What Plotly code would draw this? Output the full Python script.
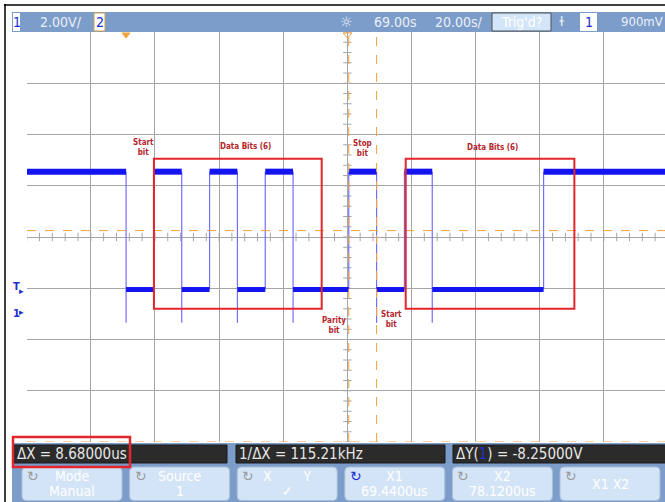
import plotly.graph_objects as go

# ==========================================================
# SCOPE SETTINGS
# ==========================================================

TIME_PER_DIV = 20.0      # us / div
TIME_CENTER = 69.0       # us, horizontal position
VOLTS_PER_DIV = 2.0      # V / div
VOLT_CENTER = 3.0        # V at screen centre
TRIGGER_LEVEL = 0.9      # V

# ==========================================================
# CAPTURED UART FRAME
# ==========================================================

BIT_TIME = 8.68          # us
FRAME_START = 0.0        # us, first falling edge (start bit)
BITS = [0, 1, 0, 1, 0, 1, 0, 0, 1, 0, 1, 0, 0, 0, 0]   # line idles high after
HIGH_LEVEL = 5.55        # V
LOW_LEVEL = 0.95         # V
SPIKE_LEVEL = -0.35      # V, undershoot on falling edges

# cursors
X1 = 69.44
X2 = 78.12
Y1 = 3.25
Y2 = -5.00

# annotation boxes / labels drawn on the capture
BOX_X = [(8.68, 61.0), (87.2, 139.8)]
BOX_Y = (0.2, 6.05)
LABEL_TEXT = ["Start<br>bit", "Data Bits (6)", "Stop<br>bit",
              "Data Bits (6)", "Parity<br>bit", "Start<br>bit"]
LABEL_X = [5.4, 37.2, 73.7, 114.3, 64.7, 82.8]
LABEL_Y = [6.5, 6.55, 6.45, 6.5, -0.45, -0.2]

# readouts
TOP_SCALE = "2.00V/"
TOP_DELAY = "69.00s"
TOP_TIMEBASE = "20.00s/"
TOP_TRIG = "900mV"
MEAS = ["ΔX = 8.68000us", "1/ΔX = 115.21kHz",
        "ΔY(<span style='color:#2030d0'>1</span>) = -8.25000V"]
SOFTKEYS = [("Mode", "Manual"), ("Source", "1"), ("X        Y", "✓"),
            ("X1", "69.4400us"), ("X2", "78.1200us"), ("X1 X2", "")]

# ==========================================================
# LAYOUT HELPERS
# ==========================================================

W, H = 665, 502
ML, MT, MB = 27, 32, 60
PW, PH = W - ML, H - MT - MB

BAR = "#7c9dca"
ORANGE = "#f3a23c"
GRID = "#a6a6a6"
BLUE = "#1414f0"
EDGE = "#7070ff"
RED = "#e3262c"
NARROW = "Liberation Sans Narrow, DejaVu Sans Condensed, Arial Narrow, sans-serif"


def px(x):
    return (x - ML) / PW


def py(y):
    return (H - MB - y) / PH


def rect(x0, y0, x1, y1, fill, line=None, lw=0):
    return dict(type="rect", xref="paper", yref="paper",
                x0=px(x0), x1=px(x1), y0=py(y1), y1=py(y0),
                fillcolor=fill, line=dict(color=line or fill, width=lw),
                layer="above")


def rounded(x0, y0, x1, y1, r, fill, line):
    p = (f"M {px(x0 + r)},{py(y0)} L {px(x1 - r)},{py(y0)} "
         f"Q {px(x1)},{py(y0)} {px(x1)},{py(y0 + r)} "
         f"L {px(x1)},{py(y1 - r)} Q {px(x1)},{py(y1)} {px(x1 - r)},{py(y1)} "
         f"L {px(x0 + r)},{py(y1)} Q {px(x0)},{py(y1)} {px(x0)},{py(y1 - r)} "
         f"L {px(x0)},{py(y0 + r)} Q {px(x0)},{py(y0)} {px(x0 + r)},{py(y0)} Z")
    return dict(type="path", xref="paper", yref="paper", path=p,
                fillcolor=fill, line=dict(color=line, width=1), layer="above")


def text(x, y, s, size=14, color="#eaf0f8", anchor="left", family=NARROW, bold=False):
    if bold:
        s = f"<b>{s}</b>"
    return dict(xref="paper", yref="paper", x=px(x), y=py(y), text=s,
                showarrow=False, xanchor=anchor, yanchor="middle",
                font=dict(family=family, size=size, color=color))


x_range = [TIME_CENTER - 99.9, TIME_CENTER - 100 + PW / 64.1 * TIME_PER_DIV]
y_range = [VOLT_CENTER - 4 * VOLTS_PER_DIV, VOLT_CENTER + 4 * VOLTS_PER_DIV]

# ==========================================================
# SIGNAL TRACE
# ==========================================================

seq = [1] + BITS + [1]
starts = [x_range[0]] + [FRAME_START + i * BIT_TIME for i in range(len(seq) - 1)]
ends = starts[1:] + [x_range[1]]

runs = []
for lvl, s, e in zip(seq, starts, ends):
    if runs and runs[-1][0] == lvl:
        runs[-1][2] = e
    else:
        runs.append([lvl, s, e])

hi_x, hi_y, lo_x, lo_y, ed_x, ed_y = [], [], [], [], [], []
for i, (lvl, s, e) in enumerate(runs):
    if lvl:
        hi_x += [s, e, None]
        hi_y += [HIGH_LEVEL, HIGH_LEVEL, None]
    else:
        lo_x += [s, e, None]
        lo_y += [LOW_LEVEL, LOW_LEVEL, None]
    if i > 0:
        bottom = SPIKE_LEVEL if lvl == 0 else LOW_LEVEL
        ed_x += [s, s, None]
        ed_y += [HIGH_LEVEL, bottom, None]

fig = go.Figure()

# graticule minor ticks on the centre axes
tick_t = [TIME_CENTER + k * TIME_PER_DIV / 5 for k in range(-25, 26)]
tick_v = [VOLT_CENTER + k * VOLTS_PER_DIV / 5 for k in range(-20, 21)]
fig.add_trace(go.Scatter(
    x=tick_t, y=[VOLT_CENTER] * len(tick_t), mode="markers", hoverinfo="skip",
    marker=dict(symbol="line-ns", size=6, line=dict(color=GRID, width=1))))
fig.add_trace(go.Scatter(
    x=[TIME_CENTER] * len(tick_v), y=tick_v, mode="markers", hoverinfo="skip",
    marker=dict(symbol="line-ew", size=6, line=dict(color=GRID, width=1))))

fig.add_trace(go.Scatter(x=ed_x, y=ed_y, mode="lines",
                         line=dict(color=EDGE, width=1.2)))
fig.add_trace(go.Scatter(x=hi_x, y=hi_y, mode="lines",
                         line=dict(color=BLUE, width=6)))
fig.add_trace(go.Scatter(x=lo_x, y=lo_y, mode="lines",
                         line=dict(color=BLUE, width=5)))

# ==========================================================
# SHAPES
# ==========================================================

shapes = []

# cursors
for xc, dash in [(X1, "dash"), (X2, "dash")]:
    shapes.append(dict(type="line", xref="x", yref="paper", x0=xc, x1=xc,
                       y0=0, y1=1, line=dict(color=ORANGE, width=1, dash=dash)))
for yc in [Y1, Y2]:
    shapes.append(dict(type="line", xref="paper", yref="y", x0=0, x1=1,
                       y0=yc, y1=yc, line=dict(color=ORANGE, width=1, dash="dash")))

# red boxes on the capture
for x0, x1 in BOX_X:
    shapes.append(dict(type="rect", xref="x", yref="y", x0=x0, x1=x1,
                       y0=BOX_Y[0], y1=BOX_Y[1], line=dict(color=RED, width=2)))

# outer frame
shapes.append(dict(type="line", xref="paper", yref="paper", x0=px(5), x1=px(5),
                   y0=py(4), y1=py(H), line=dict(color="black", width=1.5)))
shapes.append(dict(type="line", xref="paper", yref="paper", x0=px(4), x1=px(W),
                   y0=py(5), y1=py(5), line=dict(color="black", width=1.5)))

# top status bar
shapes.append(rect(12, 12, W + 1, 32, BAR))
shapes.append(rect(13, 13, 20, 31, "white"))
shapes.append(rect(94, 13, 105, 31, "white", "#c9a44a", 1))
shapes.append(rect(492, 13, 551, 31, "#d3e5f8", "#505050", 1))
shapes.append(rect(580, 13, 597, 31, "white"))

# position markers under the bar
shapes.append(dict(type="path", xref="paper", yref="paper",
                   path=f"M {px(122)},{py(33)} L {px(130)},{py(33)} L {px(126)},{py(38)} Z",
                   fillcolor=ORANGE, line=dict(color=ORANGE, width=1)))
shapes.append(dict(type="path", xref="paper", yref="paper",
                   path=f"M {px(343)},{py(33)} L {px(352)},{py(33)} L {px(347.5)},{py(38)} Z",
                   fillcolor="rgba(0,0,0,0)", line=dict(color=ORANGE, width=1)))

# bottom measurement area
shapes.append(rect(12, 443, W + 1, H + 1, BAR))
for x0, x1 in [(14, 227), (236, 445), (453, W + 1)]:
    shapes.append(rect(x0, 445, x1, 463, "#2b2b2b", "#1a1a1a", 1))
for i in range(6):
    x0 = 22 + i * 107.6
    shapes.append(rounded(x0, 467, x0 + 100, 500.5, 4, "#d4e4f7", "#a9bdd8"))
shapes.append(dict(type="rect", xref="paper", yref="paper",
                   x0=px(13), x1=px(130), y0=py(467), y1=py(437),
                   line=dict(color=RED, width=2.5), layer="above"))

# ==========================================================
# TEXT
# ==========================================================

ann = []
for s, x, y in zip(LABEL_TEXT, LABEL_X, LABEL_Y):
    ann.append(dict(x=x, y=y, xref="x", yref="y", text=f"<b>{s}</b>",
                    showarrow=False, font=dict(family="DejaVu Sans Condensed, DejaVu Sans",
                                               size=8, color="#b3262b")))

ann.append(text(16.5, 22, "1", 14, "#2030d0", "center"))
ann.append(text(38, 22, TOP_SCALE, 14))
ann.append(text(99.5, 22, "2", 14, "#2030d0", "center"))
ann.append(text(347, 22, "☼", 14, "#eef3fa", "center", "DejaVu Sans"))
ann.append(text(372, 22, TOP_DELAY, 14))
ann.append(text(433, 22, TOP_TIMEBASE, 14))
ann.append(text(521.5, 22, "Trig'd?", 14, "white", "center"))
ann.append(text(561, 22, "ɫ", 13, "#eef3fa", "center", "DejaVu Sans"))
ann.append(text(588.5, 22, "1", 14, "#2030d0", "center"))
ann.append(text(619, 22, TOP_TRIG, 13))

ann.append(text(16, 286, "T", 10, "#2030d0", "center", "DejaVu Sans", True))
ann.append(text(21, 291, "▸", 9, "#2030d0", "center", "DejaVu Sans"))
ann.append(text(16, 313, "1", 10, "#2030d0", "center", "DejaVu Sans", True))
ann.append(text(21, 312, "▸", 9, "#2030d0", "center", "DejaVu Sans"))

for s, x in zip(MEAS, [15, 237, 454]):
    ann.append(text(x, 454, s, 15, "#e6e6e6"))

for i, (a, b) in enumerate(SOFTKEYS):
    x0 = 22 + i * 107.6
    icon = "#2030d0" if a == "X1" else "#9a9a9a"
    ann.append(text(x0 + 11, 476, "↻", 14, icon, "center", "DejaVu Sans"))
    if b:
        ann.append(text(x0 + 50, 476, a, 14, "white", "center"))
        ann.append(text(x0 + 50, 491.5, b, 14, "white", "center"))
    else:
        ann.append(text(x0 + 50, 484, a, 14, "white", "center"))

fig.update_layout(
    width=W, height=H,
    margin=dict(l=ML, r=0, t=MT, b=MB),
    paper_bgcolor="white", plot_bgcolor="white",
    showlegend=False,
    shapes=shapes, annotations=ann,
    xaxis=dict(range=x_range, tick0=TIME_CENTER, dtick=TIME_PER_DIV,
               showgrid=True, gridcolor=GRID, gridwidth=1,
               showticklabels=False, zeroline=False, ticks="", fixedrange=True),
    yaxis=dict(range=y_range, tick0=VOLT_CENTER, dtick=VOLTS_PER_DIV,
               showgrid=True, gridcolor=GRID, gridwidth=1,
               showticklabels=False, zeroline=False, ticks="", fixedrange=True),
)

# the page's default body margin would push the 665x502 figure off-window
fig.write_html("out.html", config={"displayModeBar": False},
               post_script="document.body.style.margin='0';"
                           "document.body.style.overflow='hidden';")
